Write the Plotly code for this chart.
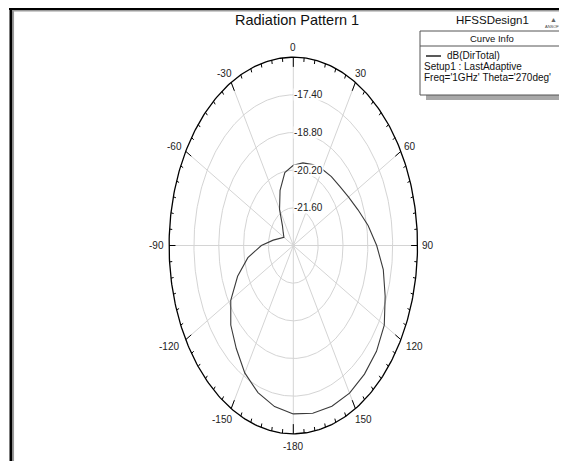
import numpy as np
import plotly.graph_objects as go

# ---------------- data ----------------
phi_deg = [-180, -170, -160, -150, -140, -130, -120, -110, -100, -90,
           -80, -70, -60, -50, -40, -30, -20, -10, 0,
           10, 20, 30, 40, 50, 60, 70, 80, 90,
           100, 110, 120, 130, 140, 150, 160, 170, 180]
dir_total_db = [-16.74, -16.92, -17.18, -17.53, -18.00, -18.40, -18.93, -19.66, -20.40, -21.20,
                -21.85, -22.21, -22.39, -22.26, -22.05, -21.45, -20.82, -20.25, -20.02,
                -19.88, -19.80, -19.73, -19.66, -19.58, -19.40, -19.12, -18.72, -18.30,
                -17.85, -17.49, -17.08, -16.88, -16.76, -16.66, -16.64, -16.67, -16.74]
radial_tick_vals = [-21.6, -20.2, -18.8, -17.4]
radial_tick_text = ["-21.60", "-20.20", "-18.80", "-17.40"]
angle_tick_vals = [0, 30, 60, 90, 120, 150, 180, -150, -120, -90, -60, -30]
angle_tick_text = ["0", "30", "60", "90", "120", "150", "-180", "-150", "-120", "-90", "-60", "-30"]
r_min, r_max = -23.0, -16.0

title_text = "Radiation Pattern 1"
design_text = "HFSSDesign1"
legend_title = "Curve Info"
legend_lines = ["dB(DirTotal)", "Setup1 : LastAdaptive", "Freq='1GHz' Theta='270deg'"]

# ---------------- helpers ----------------
PAGE_W, PAGE_H = 567, 461
OFF = 8  # default body margin of the page
W, H = PAGE_W - OFF, PAGE_H - OFF
FONT = "Liberation Sans, Arial, sans-serif"


def to_xy(theta_deg, val):
    r = np.asarray(val, dtype=float) - r_min
    t = np.radians(np.asarray(theta_deg, dtype=float))
    return r * np.sin(t), r * np.cos(t)


def px(x):
    return (x - OFF) / W


def py(y):
    return 1 - (y - OFF) / H


fig = go.Figure()
span = r_max - r_min

# grid ellipses
theta_fine = np.linspace(0, 360, 361)
for v in radial_tick_vals:
    gx, gy = to_xy(theta_fine, np.full_like(theta_fine, v))
    fig.add_trace(go.Scatter(x=gx, y=gy, mode="lines",
                             line=dict(color="#d4d4d4", width=1), hoverinfo="skip"))

# spokes every 30 deg
for a in range(0, 360, 30):
    sx, sy = to_xy([a, a], [r_min, r_max])
    fig.add_trace(go.Scatter(x=sx, y=sy, mode="lines",
                             line=dict(color="#d4d4d4", width=1), hoverinfo="skip"))

# outer boundary
ox, oy = to_xy(theta_fine, np.full_like(theta_fine, r_max))
fig.add_trace(go.Scatter(x=ox, y=oy, mode="lines",
                         line=dict(color="#000000", width=1.3), hoverinfo="skip"))

# ticks on boundary (every 5 deg, major every 30)
tx, ty = [], []
for a in range(0, 360, 5):
    depth = 0.36 if a % 30 == 0 else 0.15
    x0, y0 = to_xy([a, a], [r_max, r_max - depth])
    tx += list(x0) + [None]
    ty += list(y0) + [None]
fig.add_trace(go.Scatter(x=tx, y=ty, mode="lines",
                         line=dict(color="#000000", width=1), hoverinfo="skip"))

# data curve
cx, cy = to_xy(phi_deg, dir_total_db)
fig.add_trace(go.Scatter(x=cx, y=cy, mode="lines",
                         line=dict(color="#3a3a3a", width=1.1), name="dB(DirTotal)"))

annotations = []
# radial tick labels
for v, t in zip(radial_tick_vals, radial_tick_text):
    lx, ly = to_xy(0, v)
    annotations.append(dict(x=float(lx), y=float(ly), xref="x", yref="y", text=t,
                            showarrow=False, xanchor="left", yanchor="middle",
                            font=dict(family=FONT, size=10, color="#222222"),
                            bgcolor="white", borderpad=0))

# angle labels
for a, t in zip(angle_tick_vals, angle_tick_text):
    lx, ly = to_xy(a, r_max)
    s, c = np.sin(np.radians(a)), np.cos(np.radians(a))
    w = 5.4 * len(t)
    g = 5 if c >= -0.01 else 8
    annotations.append(dict(x=float(lx), y=float(ly), xref="x", yref="y", text=t,
                            showarrow=False, xanchor="center", yanchor="middle",
                            xshift=float(s * (g + w / 2)), yshift=float(c * (g + 5)),
                            font=dict(family=FONT, size=10, color="#222222")))

# title and design name
annotations.append(dict(x=px(297), y=py(20), xref="paper", yref="paper", text=title_text,
                        showarrow=False, xanchor="center", yanchor="middle",
                        font=dict(family=FONT, size=14.5, color="#111111")))
annotations.append(dict(x=px(492), y=py(20), xref="paper", yref="paper", text=design_text,
                        showarrow=False, xanchor="center", yanchor="middle",
                        font=dict(family=FONT, size=11.5, color="#111111")))
annotations.append(dict(x=px(553), y=py(19), xref="paper", yref="paper", text="▲",
                        showarrow=False, xanchor="center", yanchor="middle",
                        font=dict(family=FONT, size=7, color="#666666")))
annotations.append(dict(x=px(553), y=py(27), xref="paper", yref="paper", text="ANSOFT",
                        showarrow=False, xanchor="center", yanchor="middle",
                        font=dict(family=FONT, size=4, color="#444444")))

# legend box texts
annotations.append(dict(x=px(492), y=py(38.5), xref="paper", yref="paper", text=legend_title,
                        showarrow=False, xanchor="center", yanchor="middle",
                        font=dict(family=FONT, size=9.5, color="#111111")))
annotations.append(dict(x=px(445), y=py(56), xref="paper", yref="paper", text=legend_lines[0],
                        showarrow=False, xanchor="left", yanchor="middle",
                        font=dict(family=FONT, size=10, color="#111111")))
annotations.append(dict(x=px(422), y=py(66.5), xref="paper", yref="paper", text=legend_lines[1],
                        showarrow=False, xanchor="left", yanchor="middle",
                        font=dict(family=FONT, size=10, color="#111111")))
annotations.append(dict(x=px(422), y=py(77.5), xref="paper", yref="paper", text=legend_lines[2],
                        showarrow=False, xanchor="left", yanchor="middle",
                        font=dict(family=FONT, size=10, color="#111111")))

shapes = [
    # legend shadow
    dict(type="rect", xref="paper", yref="paper", x0=px(426), x1=px(571), y0=py(100), y1=py(36),
         fillcolor="#a8a8a8", line=dict(width=0), layer="above"),
    # legend box
    dict(type="rect", xref="paper", yref="paper", x0=px(420), x1=px(565), y0=py(95), y1=py(31),
         fillcolor="white", line=dict(color="#555555", width=1), layer="above"),
    dict(type="line", xref="paper", yref="paper", x0=px(420), x1=px(565), y0=py(46), y1=py(46),
         line=dict(color="#555555", width=1), layer="above"),
    dict(type="line", xref="paper", yref="paper", x0=px(426), x1=px(441), y0=py(56), y1=py(56),
         line=dict(color="#222222", width=1.5), layer="above"),
    # frame: black outer, grey inner
    dict(type="line", xref="paper", yref="paper", x0=px(9), x1=px(567), y0=py(8.5), y1=py(8.5),
         line=dict(color="#000000", width=3)),
    dict(type="line", xref="paper", yref="paper", x0=px(11), x1=px(11), y0=py(7), y1=py(461),
         line=dict(color="#000000", width=3)),
    dict(type="line", xref="paper", yref="paper", x0=px(12.5), x1=px(567), y0=py(10.8), y1=py(10.8),
         line=dict(color="#9a9a9a", width=1.5)),
    dict(type="line", xref="paper", yref="paper", x0=px(13.3), x1=px(13.3), y0=py(10), y1=py(461),
         line=dict(color="#9a9a9a", width=1.5)),
]

# axes: page center pixel (293.3, 245.5); outer radius 124.2 px (x) and 188.3 px (y)
cxp, cyp, rxp, ryp = 293.3 - OFF, 245.5 - OFF, 124.2, 188.3
x_range = [-cxp / rxp * span, (W - cxp) / rxp * span]
y_range = [-(H - cyp) / ryp * span, cyp / ryp * span]

fig.update_layout(
    width=W, height=H,
    margin=dict(l=0, r=0, t=0, b=0),
    paper_bgcolor="white", plot_bgcolor="white",
    showlegend=False,
    xaxis=dict(range=x_range, visible=False, fixedrange=True, domain=[0, 1]),
    yaxis=dict(range=y_range, visible=False, fixedrange=True, domain=[0, 1]),
    annotations=annotations,
    shapes=shapes,
)

fig.write_html("out.html")
